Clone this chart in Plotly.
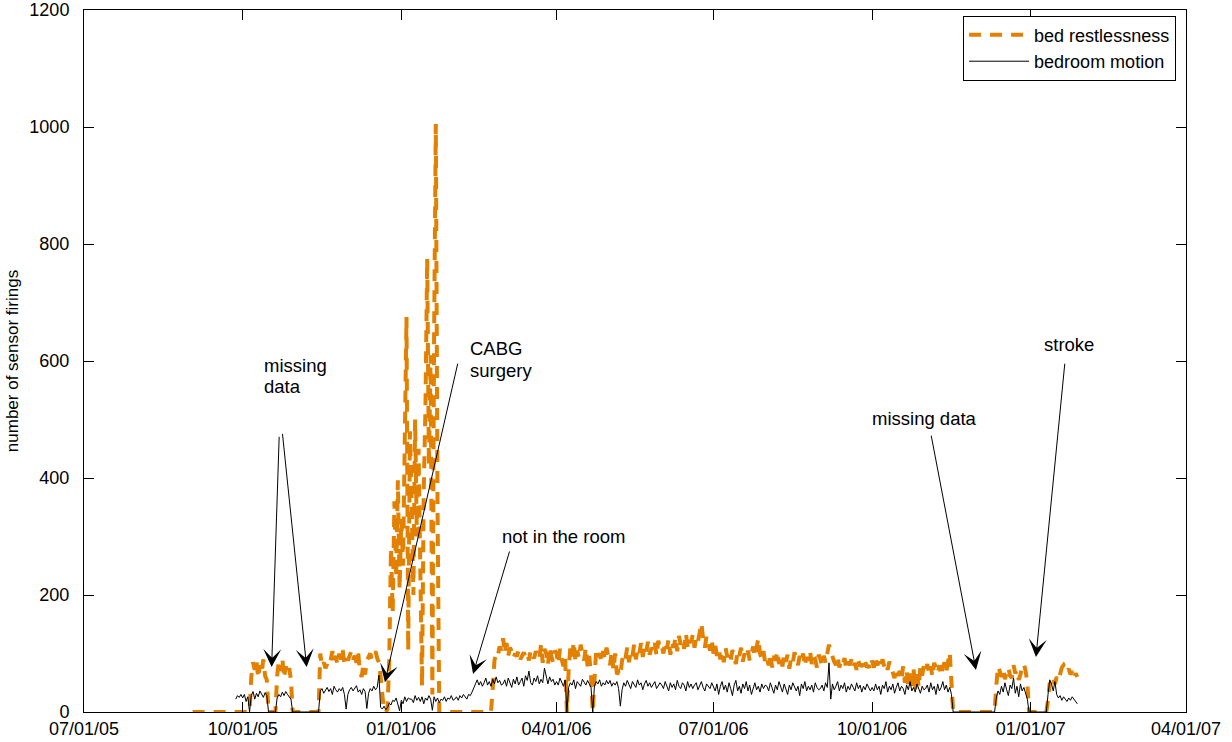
import pandas as pd
import plotly.graph_objects as go

FONT = "Liberation Sans"
ORANGE = "#E38000"

# ---- daily values (sensor firings), one list per month ----
month_starts = ["2005-09-02", "2005-10-01", "2005-11-01", "2005-12-01",
                "2006-01-01", "2006-02-01", "2006-03-01", "2006-04-01",
                "2006-05-01", "2006-06-01", "2006-07-01", "2006-08-01",
                "2006-09-01", "2006-10-01", "2006-11-01", "2006-12-01",
                "2007-01-01"]

bed_2005_09 = [0, 0, 0, 0, 0, 0, 0, 0, 0, 0, 0, 0, 0, 0, 0, 0, 0, 0, 0, 0,
               0, 0, 0, 0, 0, 0, 0, 0, 0]
motion_2005_09 = [None, None, None, None, None, None, None, None, None, None,
                  None, None, None, None, None, None, None, None, None, None,
                  None, None, None, None, None, 22, 28, 25, 30]

bed_2005_10 = [0, 0, 0, 0, 0, 60, 85, 72, 88, 58, 80, 66, 90, 62, 55,
               0, 0, 0, 0, 0, 62, 88, 70, 92, 58, 78, 64, 75, 55, 0, 0]
motion_2005_10 = [24, 30, 18, 26, 0, 28, 35, 22, 32, 26, 36, 30, 25, 33, 28,
                  0, 0, 0, 0, 0, 24, 30, 26, 34, 28, 35, 30, 26, 22, 0, 0]

bed_2005_11 = [0, 0, 0, 0, 0, 0, 0, 0, 0, 0, 0, 0, 0, 0,
               100, 78, 85, 75, 82, 92, 88, 104, 86, 96, 80, 100, 90, 106, 84, 95]
motion_2005_11 = [0, 0, 0, 0, 0, 0, 0, 0, 0, 0, 0, 0, 0, 0,
                  36, 40, 32, 38, 42, 35, 40, 30, 44, 38, 34, 40, 36, 42, 30, 5]

bed_2005_12 = [88, 98, 104, 90, 96, 84, 100, 70, 60, 82, 64, 88, 95, 100, 90,
               98, 104, 92, 85, 60, 20, 0, 0, 5,
               90, 280, 170, 360, 230, 396, 210]
motion_2005_12 = [30, 38, 42, 36, 40, 45, 34, 38, 30, 40, 35, 6, 32, 40, 36,
                  44, 38, 42, 63, 8, 5, 10, 4, 8, 15, 12, 20, 18, 24, 14, 2]

bed_2006_01 = [330, 250, 420, 675, 105, 480, 360, 200, 500, 300, 450, 260, 44,
               380, 520, 775, 420, 610, 30, 640, 1005, 350,
               0, 0, 0, 0, 0, 0, 0, 0, 0]
motion_2006_01 = [20, 14, 26, 18, 24, 22, 22, 16, 28, 20, 25, 18, 26, 14, 24,
                  20, 28, 22, 3, 26, 18, 24, 16, 22, 20, 26, 18, 24, 22, 28, 20]

bed_2006_02 = [0, 0, 0, 0, 0, 0, 0, 0, 0, 0, 0, 0, 0, 0, 0, 0, 0, 0, 0, 0,
               0, 0, 40, 88, 100, 96, 112, 105]
motion_2006_02 = [22, 26, 20, 28, 24, 30, 26, 22, 30, 28, 34, 40, 48, 55, 46,
                  52, 44, 50, 58, 46, 52, 44, 56, 48, 60, 50, 54, 46]

bed_2006_03 = [126, 100, 118, 96, 110, 104, 92, 100, 95, 105, 90, 98, 102, 94,
               100, 88, 106, 96, 92, 104, 98, 90, 115, 84, 108, 100, 80, 112,
               95, 85, 105]
motion_2006_03 = [48, 55, 44, 58, 50, 42, 56, 48, 60, 46, 52, 58, 44, 62, 54,
                  70, 50, 46, 58, 52, 62, 48, 56, 50, 75, 58, 48, 60, 52, 56, 46]

bed_2006_04 = [100, 82, 108, 90, 78, 95, 0, 70, 110, 95, 120, 85, 105, 92, 115,
               100, 88, 110, 78, 96, 62, 0, 70, 108, 95, 100, 85, 104, 90, 110]
motion_2006_04 = [52, 46, 58, 50, 44, 55, 0, 42, 50, 46, 55, 40, 52, 48, 44,
                  56, 50, 46, 54, 48, 42, 0, 45, 52, 48, 55, 44, 50, 46, 54]

bed_2006_05 = [95, 80, 104, 72, 100, 65, 68, 62, 88, 100, 92, 110, 85, 104, 96,
               115, 90, 108, 100, 118, 94, 112, 102, 120, 98, 110, 104, 118,
               96, 122, 108]
motion_2006_05 = [48, 54, 44, 50, 46, 52, 40, 10, 38, 50, 44, 54, 46, 40, 52,
                  48, 42, 55, 46, 50, 38, 48, 54, 44, 50, 42, 48, 52, 40, 46, 50]

bed_2006_06 = [112, 100, 120, 108, 125, 98, 118, 110, 128, 104, 130, 115, 122,
               108, 135, 112, 126, 118, 132, 110, 128, 120, 140, 152, 125, 110,
               130, 118, 105, 124]
motion_2006_06 = [46, 40, 52, 44, 36, 50, 42, 48, 38, 54, 44, 40, 50, 46, 36,
                  52, 42, 48, 40, 46, 50, 38, 44, 52, 42, 36, 48, 44, 40, 50]

bed_2006_07 = [100, 115, 96, 108, 90, 104, 85, 110, 94, 100, 88, 106, 92, 82,
               104, 96, 110, 86, 100, 92, 105, 88, 98, 112, 94, 108, 126, 100,
               90, 104, 84]
motion_2006_07 = [42, 36, 48, 30, 44, 52, 38, 46, 34, 50, 40, 28, 46, 54, 36,
                  44, 32, 48, 40, 52, 36, 46, 30, 42, 50, 38, 44, 34, 48, 40, 46]

bed_2006_08 = [92, 80, 100, 76, 96, 88, 104, 82, 94, 78, 100, 86, 98, 74, 92,
               84, 102, 90, 80, 96, 86, 100, 78, 94, 88, 104, 82, 96, 90, 76, 98]
motion_2006_08 = [44, 36, 50, 40, 32, 46, 38, 52, 42, 34, 48, 40, 30, 46, 38,
                  50, 42, 36, 44, 28, 48, 40, 52, 36, 44, 38, 46, 34, 50, 42, 38]

bed_2006_09 = [90, 78, 96, 84, 100, 115, 104, 92, 86, 80, 94, 76, 88, 82, 92,
               74, 86, 80, 90, 76, 84, 72, 88, 78, 82, 74, 86, 76, 80, 72]
motion_2006_09 = [40, 46, 36, 50, 42, 84, 22, 48, 38, 44, 52, 36, 46, 40, 50,
                  34, 44, 38, 48, 42, 36, 50, 40, 46, 34, 44, 38, 48, 42, 36]

bed_2006_10 = [88, 76, 92, 80, 86, 74, 90, 78, 84, 72, 86, 76, 68, 58, 75,
               62, 70, 55, 78, 50, 72, 40, 66, 45, 75, 38, 70, 42, 78, 62, 80]
motion_2006_10 = [42, 36, 48, 38, 44, 30, 46, 40, 52, 34, 44, 38, 48, 32, 42,
                  50, 36, 44, 40, 30, 46, 38, 52, 36, 42, 34, 48, 40, 32, 44, 38]

bed_2006_11 = [70, 82, 64, 78, 60, 84, 72, 66, 80, 62, 76, 85, 68, 88, 102, 50,
               0, 0, 0, 0, 0, 0, 0, 0, 0, 0, 0, 0, 0, 0]
motion_2006_11 = [40, 46, 34, 50, 38, 44, 30, 48, 36, 42, 52, 38, 46, 34, 42, 30,
                  0, 0, 0, 0, 0, 0, 0, 0, 0, 0, 0, 0, 0, 0]

bed_2006_12 = [0, 0, 0, 0, 0, 0, 0, 0, 0, 0, 0,
               45, 78, 70, 60, 74, 56, 68, 76, 62, 58, 80, 66, 72, 55, 64, 78,
               82, 70, 50, 0]
motion_2006_12 = [0, 0, 0, 0, 0, 0, 0, 0, 0, 0, 0,
                  24, 36, 30, 44, 34, 50, 38, 28, 46, 40, 58, 32, 44, 26, 48, 36,
                  42, 30, 22, 0]

bed_2007_01 = [0, 0, 0, 0, 0, 0, 0, 0, 0, 0,
               20, 50, 44, 56, 48, 60, 54, 66, 76, 80, 72, 68, 74, 64, 70, 58,
               66, 60]
motion_2007_01 = [0, 0, 0, 0, 0, 0, 0, 0, 0, 0,
                  30, 55, 48, 36, 52, 30, 24, 28, 20, 26, 22, 18, 24, 20, 26, 22,
                  18, 14]

bed_months = [bed_2005_09, bed_2005_10, bed_2005_11, bed_2005_12, bed_2006_01,
              bed_2006_02, bed_2006_03, bed_2006_04, bed_2006_05, bed_2006_06,
              bed_2006_07, bed_2006_08, bed_2006_09, bed_2006_10, bed_2006_11,
              bed_2006_12, bed_2007_01]
motion_months = [motion_2005_09, motion_2005_10, motion_2005_11, motion_2005_12,
                 motion_2006_01, motion_2006_02, motion_2006_03, motion_2006_04,
                 motion_2006_05, motion_2006_06, motion_2006_07, motion_2006_08,
                 motion_2006_09, motion_2006_10, motion_2006_11, motion_2006_12,
                 motion_2007_01]

bed_x, bed_y, mot_x, mot_y = [], [], [], []
for start, b, m in zip(month_starts, bed_months, motion_months):
    bed_x += list(pd.date_range(start, periods=len(b), freq="D"))
    bed_y += b
    mot_x += list(pd.date_range(start, periods=len(m), freq="D"))
    mot_y += m

fig = go.Figure()
fig.add_trace(go.Scatter(x=bed_x, y=bed_y, mode="lines", name="bed restlessness",
                         line=dict(color=ORANGE, width=4, dash="12px,9px")))
fig.add_trace(go.Scatter(x=mot_x, y=mot_y, mode="lines", name="bedroom motion",
                         line=dict(color="black", width=1)))

# ---- annotations (day offsets from 07/01/05, values) ----
base = pd.Timestamp("2005-07-01")


def day(d):
    return (base + pd.Timedelta(days=d)).strftime("%Y-%m-%d %H:%M")


arrows = [  # (tail_day, tail_val, tip_day, tip_val)
    (113.2, 473, 108.8, 77),
    (115.0, 478, 129.1, 77),
    (216.9, 598, 174.5, 51),
    (247.0, 277, 225.6, 65),
    (491.1, 475, 517.2, 72),
    (568.8, 598, 552.0, 94),
]
annotations = []
for td, tv, hd, hv in arrows:
    annotations.append(dict(x=day(hd), y=hv, xref="x", yref="y",
                            ax=day(td), ay=tv, axref="x", ayref="y",
                            text="", showarrow=True, arrowhead=3,
                            arrowsize=3, arrowwidth=1, arrowcolor="black",
                            standoff=0))

labels = [  # (text, left x paper, center y paper)
    ("missing", 0.1615, 0.4935),
    ("data", 0.1615, 0.4635),
    ("CABG", 0.3485, 0.5185),
    ("surgery", 0.3485, 0.4870),
    ("not in the room", 0.3775, 0.2507),
    ("missing data", 0.7132, 0.4188),
    ("stroke", 0.8693, 0.5228),
]
for txt, px, py in labels:
    annotations.append(dict(x=px, y=py, xref="paper", yref="paper", text=txt,
                            showarrow=False, xanchor="left", yanchor="middle",
                            font=dict(family=FONT, size=18.5, color="black")))

axis_common = dict(showline=True, linecolor="black", linewidth=1,
                   mirror="ticks", ticks="inside", ticklen=10,
                   tickcolor="black", tickwidth=1, showgrid=False,
                   zeroline=False, automargin=False,
                   tickfont=dict(family=FONT, size=18, color="black"))

fig.update_layout(
    width=1232, height=742,
    margin=dict(l=84, r=46, t=10, b=30),
    paper_bgcolor="white", plot_bgcolor="white",
    font=dict(family=FONT, color="black"),
    showlegend=True,
    legend=dict(x=0.991, xanchor="right", y=0.992, yanchor="top",
                bordercolor="black", borderwidth=1, bgcolor="white",
                font=dict(family=FONT, size=18, color="black"),
                itemwidth=60, tracegroupgap=0),
    xaxis=dict(type="date", range=["2005-07-01", "2007-04-01"],
               tick0="2005-07-01", dtick="M3", tickformat="%m/%d/%y",
               **axis_common),
    yaxis=dict(range=[0, 1200], dtick=200, ticksuffix="\u00a0\u00a0",
               title=dict(text="number of sensor firings", standoff=6,
                          font=dict(family=FONT, size=17, color="black")),
               **axis_common),
    annotations=annotations,
)

fig.write_html("out.html",
               config={"displayModeBar": False},
               post_script="document.body.style.margin='0';"
                           "document.body.style.overflow='hidden';")
